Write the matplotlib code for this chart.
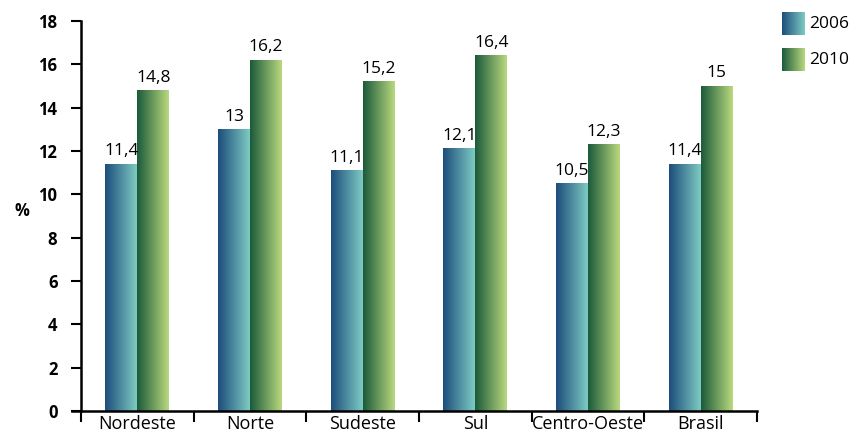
import numpy as np
import matplotlib.pyplot as plt
from matplotlib.colors import LinearSegmentedColormap

regioes = ['Nordeste', 'Norte', 'Sudeste', 'Sul', 'Centro-Oeste', 'Brasil']
v2006 = [11.4, 13, 11.1, 12.1, 10.5, 11.4]
v2010 = [14.8, 16.2, 15.2, 16.4, 12.3, 15]
anos = ['2006', '2010']

cmap_azul = LinearSegmentedColormap.from_list('azul', ['#1d4d7c', '#7ecbc3'])
cmap_verde = LinearSegmentedColormap.from_list('verde', ['#1a5a3a', '#bad97f'])
grad = np.linspace(0, 1, 256).reshape(1, -1)

def fmt(v):
    s = ('%g' % v).replace('.', ',')
    return s

plt.rcParams['font.family'] = ['Open Sans', 'DejaVu Sans']

fig = plt.figure(figsize=(8.57, 4.41), dpi=100)
ax = fig.add_axes([81/857, 1 - 411/441, (757-81)/857, (411-21)/441])

x = np.arange(len(regioes))
w = 0.283

def barra(x0, h, cmap):
    ax.imshow(grad, cmap=cmap, aspect='auto', extent=[x0, x0 + w, 0, h],
              interpolation='bicubic', zorder=2)
    ax.text(x0 + w/2, h + 0.22, fmt(h), ha='center', va='bottom', fontsize=12.5)

for i in x:
    barra(i - w, v2006[i], cmap_azul)
    barra(i, v2010[i], cmap_verde)

ax.set_xlim(-0.5, len(regioes) - 0.5)
ax.set_ylim(0, 18)
ax.set_yticks(np.arange(0, 19, 2))
ax.set_yticklabels([str(t) for t in range(0, 19, 2)], fontweight='bold', fontsize=12)
ax.set_xticks(x)
ax.set_xticklabels(regioes, fontsize=13)
ax.tick_params(axis='x', which='major', length=0, pad=3)
ax.set_xticks(np.arange(-0.5, len(regioes), 1), minor=True)
ax.tick_params(axis='x', which='minor', length=8, width=1.5, direction='out')
ax.tick_params(axis='y', length=7, width=1.5, direction='out', pad=10)
for s in ['top', 'right']:
    ax.spines[s].set_visible(False)
for s in ['left', 'bottom']:
    ax.spines[s].set_linewidth(1.8)
ax.spines['bottom'].set_bounds(-0.58, len(regioes) - 0.5)

fig.text(22/857, 1 - 211/441, '%', ha='center', va='center', fontweight='bold', fontsize=12)

# legenda
for j, (ano, cm) in enumerate(zip(anos, [cmap_azul, cmap_verde])):
    y_top = 12 + j * 36
    lax = fig.add_axes([782/857, 1 - (y_top + 23)/441, 23/857, 23/441])
    lax.imshow(grad, cmap=cm, aspect='auto', interpolation='bicubic')
    lax.axis('off')
    fig.text(809/857, 1 - (y_top + 12)/441, ano, ha='left', va='center', fontsize=12.5)

fig.savefig('out.png', dpi=100)
